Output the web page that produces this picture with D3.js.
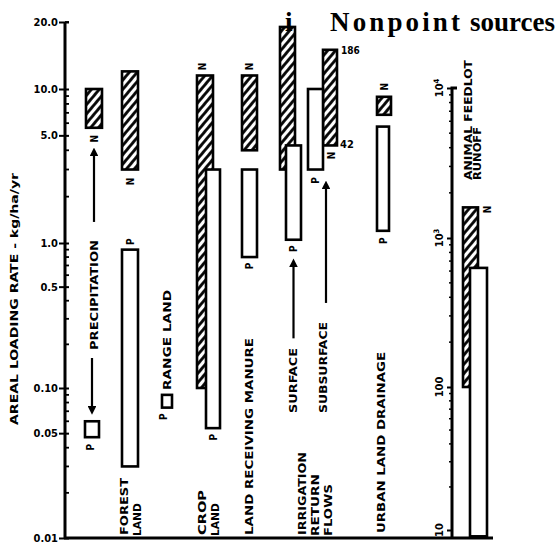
<!DOCTYPE html>
<html>
<head>
<meta charset="utf-8">
<script src="https://cdn.jsdelivr.net/npm/d3@7"></script>
<style>
  body { margin: 0; background: #fff; }
  svg { display: block; }
  .lbl { font-family: "DejaVu Sans Condensed", "DejaVu Sans", sans-serif; font-weight: bold; fill: #000; }
</style>
</head>
<body>
<svg id="chart" width="559" height="548" viewBox="0 0 559 548"></svg>
<script>
// sources, left axis in kg/ha/yr, feedlot on the right axis
var sources = ["precip", "forest", "range", "crop", "manure", "surface", "subsurface", "urban", "feedlot"];
var nLow  = [5.6, 3.0, null, 0.1, 4.0, 3.0, 4.3, 6.8, 100];
var nHigh = [10, 12, null, 11.5, 11.5, 19, 15, 8.9, 1600];
var pLow  = [0.047, 0.03, 0.074, 0.054, 0.8, 1.05, 3.0, 1.2, 9];
var pHigh = [0.06, 0.9, 0.09, 3.0, 3.0, 4.3, 10, 5.7, 630];
// subsurface N bar is broken, true range written beside it
var subsurfaceN = ["42", "186"];

var leftTicks = [0.01, 0.05, 0.1, 0.5, 1, 5, 10, 20];
var leftTickLabels = ["0.01", "0.05", "0.10", "0.5", "1.0", "5.0", "10.0", "20.0"];
var rightTicks = [10, 100, 1000, 10000];
var rightTickLabels = ["10", "100", "10", "10"];
var rightTickSup = ["", "", "3", "4"];

// arrows next to the labels (value ranges, arrow head end first)
var arrows = [
  {src: "precip", x: "n", from: 3.9, to: 1.37},
  {src: "precip", x: "p", from: 0.071, to: 0.161},
  {src: "surface", x: "p", from: 0.73, to: 0.22},
  {src: "subsurface", x: "p2", from: 2.38, to: 0.386}
];

var svg = d3.select("#chart");

// the scan is a bit stretched, so each decade gets its own span
var y = d3.scaleLog()
  .domain([0.01, 0.1, 1, 10, 20])
  .range([538, 388, 243, 89, 22]);
var yR = d3.scaleLog()
  .domain([8.9, 10, 100, 1000, 10000])
  .range([537, 530, 387, 238, 88]);

// column centres
var nX = d3.scaleOrdinal().domain(sources).range([94, 130, 167, 205, 249.5, 287.5, 330, 384, 470.5]);
var pX = d3.scaleOrdinal().domain(sources).range([92, 130, 167, 213, 249.5, 293.5, 315.5, 383, 478.5]);
var nW = [16, 16, 10, 16, 15, 15, 14, 14, 15];
var pW = [14, 16, 10, 14, 15, 15, 15, 12, 17];

var defs = svg.append("defs");
var pat = defs.append("pattern")
  .attr("id", "hatch")
  .attr("patternUnits", "userSpaceOnUse")
  .attr("width", 6).attr("height", 6)
  .attr("patternTransform", "rotate(40)");
pat.append("rect").attr("width", 6).attr("height", 6).attr("fill", "#fff");
pat.append("line").attr("x1", 1.5).attr("y1", 0).attr("x2", 1.5).attr("y2", 6)
  .attr("stroke", "#000").attr("stroke-width", 2.8);

defs.append("marker")
  .attr("id", "head")
  .attr("viewBox", "0 0 10 10")
  .attr("refX", 5).attr("refY", 5)
  .attr("markerWidth", 4).attr("markerHeight", 4)
  .attr("orient", "auto")
  .append("path").attr("d", "M0,0L10,5L0,10z").attr("fill", "#000");

// ---- axes ----
var leftAxis = d3.axisLeft(y)
  .tickValues(leftTicks)
  .tickFormat(function (d, i) { return leftTickLabels[i]; })
  .tickSize(6).tickSizeOuter(0).tickPadding(3);
var gl = svg.append("g").attr("transform", "translate(65,0)").call(leftAxis);
gl.select(".domain").remove();
gl.selectAll(".tick line").attr("stroke", "#000").attr("stroke-width", 2).attr("x2", 4).attr("x1", -6);
gl.selectAll(".tick text").attr("class", "lbl").style("font-size", "11px")
  .attr("font-family", null).attr("x", -7);

var minorL = [];
[0.01, 0.1, 1, 10].forEach(function (dec) {
  for (var k = 2; k < 10; k++) { if (dec * k <= 20 && k !== 5) minorL.push(dec * k); }
});
svg.append("g").selectAll("line").data(minorL).join("line")
  .attr("x1", 65).attr("x2", 69)
  .attr("y1", function (d) { return y(d); }).attr("y2", function (d) { return y(d); })
  .attr("stroke", "#000").attr("stroke-width", 1.8);

svg.append("line").attr("x1", 65).attr("x2", 65).attr("y1", y(20)).attr("y2", 539)
  .attr("stroke", "#000").attr("stroke-width", 3);

var rightAxis = d3.axisLeft(yR)
  .tickValues(rightTicks)
  .tickFormat("")
  .tickSize(5).tickSizeOuter(0);
var gr = svg.append("g").attr("transform", "translate(452,0)").call(rightAxis);
gr.select(".domain").remove();
gr.selectAll(".tick line").attr("stroke", "#000").attr("stroke-width", 2);

var rl = svg.append("g").selectAll("text").data(rightTicks).join("text")
  .attr("class", "lbl")
  .style("font-size", "11px")
  .attr("text-anchor", "middle")
  .attr("transform", function (d) { return "translate(443," + yR(d) + ") rotate(-90)"; });
rl.append("tspan").text(function (d, i) { return rightTickLabels[i]; });
rl.append("tspan").attr("dy", -4).style("font-size", "7.5px")
  .text(function (d, i) { return rightTickSup[i]; });

var minorR = [];
[10, 100, 1000].forEach(function (dec) {
  for (var k = 2; k < 10; k++) minorR.push(dec * k);
});
svg.append("g").selectAll("line").data(minorR).join("line")
  .attr("x1", 449).attr("x2", 452)
  .attr("y1", function (d) { return yR(d); }).attr("y2", function (d) { return yR(d); })
  .attr("stroke", "#000").attr("stroke-width", 1.5);

svg.append("path")
  .attr("d", "M457," + yR(10000) + "H452V538")
  .attr("fill", "none").attr("stroke", "#000").attr("stroke-width", 3);

svg.append("line").attr("x1", 64).attr("x2", 493).attr("y1", 538).attr("y2", 538)
  .attr("stroke", "#000").attr("stroke-width", 3);

// ---- bars ----
function scaleFor(s) { return s === "feedlot" ? yR : y; }

var rows = sources.map(function (s, i) {
  return {s: s, i: i, nLo: nLow[i], nHi: nHigh[i], pLo: pLow[i], pHi: pHigh[i]};
});

var nRows = rows.filter(function (d) { return d.nLo !== null; });
svg.append("g").selectAll("rect").data(nRows).join("rect")
  .attr("x", function (d) { return nX(d.s) - nW[d.i] / 2; })
  .attr("width", function (d) { return nW[d.i]; })
  .attr("y", function (d) { return scaleFor(d.s)(d.nHi); })
  .attr("height", function (d) { var sc = scaleFor(d.s); return sc(d.nLo) - sc(d.nHi); })
  .attr("fill", "url(#hatch)")
  .attr("stroke", "#000").attr("stroke-width", 2.6);

svg.append("g").selectAll("rect").data(rows).join("rect")
  .attr("x", function (d) { return pX(d.s) - pW[d.i] / 2; })
  .attr("width", function (d) { return pW[d.i]; })
  .attr("y", function (d) { return scaleFor(d.s)(d.pHi); })
  .attr("height", function (d) { var sc = scaleFor(d.s); return sc(d.pLo) - sc(d.pHi); })
  .attr("fill", "#fff")
  .attr("stroke", "#000").attr("stroke-width", 2.6);

// ---- arrows ----
svg.append("g").selectAll("line").data(arrows).join("line")
  .attr("x1", function (d) { return d.x === "n" ? nX(d.src) : (d.x === "p2" ? nX(d.src) - 4 : pX(d.src)); })
  .attr("x2", function (d) { return d.x === "n" ? nX(d.src) : (d.x === "p2" ? nX(d.src) - 4 : pX(d.src)); })
  .attr("y1", function (d) { return y(d.to); })
  .attr("y2", function (d) { return y(d.from); })
  .attr("stroke", "#000").attr("stroke-width", 2.2)
  .attr("marker-end", "url(#head)");

// ---- text ----
function vtext(cx, yb, str, len, size) {
  svg.append("text").attr("class", "lbl")
    .attr("transform", "translate(" + (cx + size * 0.37) + "," + yb + ") rotate(-90)")
    .style("font-size", size + "px")
    .attr("textLength", len).attr("lengthAdjust", "spacingAndGlyphs")
    .text(str);
}
function mark(cx, cy, str) {
  svg.append("text").attr("class", "lbl")
    .attr("transform", "translate(" + (cx + 3.5) + "," + cy + ") rotate(-90)")
    .attr("text-anchor", "middle")
    .style("font-size", "10px")
    .text(str);
}

vtext(14, 425, "AREAL  LOADING  RATE  -  kg/ha/yr", 252, 10.5);

vtext(94, 350, "PRECIPITATION", 110, 10.5);
vtext(124, 535, "FOREST", 57, 10.5);
vtext(137, 536, "LAND", 33, 10.5);
vtext(167, 390, "RANGE  LAND", 100, 10.5);
vtext(202, 535, "CROP", 45, 10.5);
vtext(215, 536, "LAND", 33, 10.5);
vtext(249, 535, "LAND  RECEIVING  MANURE", 197, 10.5);
vtext(293, 413, "SURFACE", 65, 10.5);
vtext(323, 413, "SUBSURFACE", 91, 10.5);
vtext(302, 535, "IRRIGATION", 83, 10.5);
vtext(315, 536, "RETURN", 62, 10.5);
vtext(328, 536, "FLOWS", 52, 10.5);
vtext(381, 533, "URBAN  LAND  DRAINAGE", 181, 10.5);
vtext(468, 180, "ANIMAL  FEEDLOT", 120, 10.5);
vtext(477, 180, "RUNOFF", 53, 10.5);

// N / P tags
mark(nX("precip"), y(nLow[0]) + 11, "N");
mark(pX("precip") - 2, y(pLow[0]) + 10, "P");
mark(nX("forest"), y(nLow[1]) + 12, "N");
mark(pX("forest"), y(pHigh[1]) - 8, "P");
mark(pX("range") - 4, y(pLow[2]) + 9, "P");
mark(nX("crop") - 3, y(nHigh[3]) - 9, "N");
mark(pX("crop"), y(pLow[3]) + 9, "P");
mark(nX("manure"), y(nHigh[4]) - 9, "N");
mark(pX("manure"), y(pLow[4]) + 9, "P");
mark(pX("surface"), y(pLow[5]) + 9, "P");
mark(nX("subsurface") + 1, y(nLow[6]) + 10, "N");
mark(pX("subsurface"), y(pLow[6]) + 11, "P");
mark(nX("urban"), y(nHigh[7]) - 10, "N");
mark(pX("urban"), y(pLow[7]) + 10, "P");
mark(nX("feedlot") + 17, yR(nHigh[8]) + 2, "N");

svg.append("text").attr("class", "lbl")
  .attr("x", 341).attr("y", y(nHigh[6]) + 4)
  .style("font-size", "10px").text(subsurfaceN[1]);
svg.append("text").attr("class", "lbl")
  .attr("x", 340).attr("y", y(nLow[6]) + 3)
  .style("font-size", "11px").text(subsurfaceN[0]);

// title
var serif = "'Liberation Serif', 'Times New Roman', serif";
svg.append("text")
  .attr("x", 285).attr("y", 31)
  .style("font-family", serif)
  .style("font-weight", "bold").style("font-size", "27px")
  .text("i");
svg.append("text")
  .attr("x", 330).attr("y", 31)
  .style("font-family", serif)
  .style("font-weight", "bold").style("font-size", "27px")
  .attr("textLength", 130).attr("lengthAdjust", "spacing")
  .text("Nonpoint");
svg.append("text")
  .attr("x", 470).attr("y", 31)
  .style("font-family", serif)
  .style("font-weight", "bold").style("font-size", "27px")
  .attr("textLength", 85).attr("lengthAdjust", "spacing")
  .text("sources");
</script>
</body>
</html>
